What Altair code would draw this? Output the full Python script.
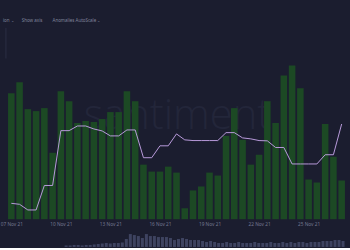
import altair as alt
import pandas as pd

# ---- data ----
bar_values = [127, 138, 111, 109, 112, 67, 129, 119, 97, 99, 98, 101, 108, 108,
              129, 119, 55, 48, 48, 53, 47, 11, 29, 33, 47, 44, 84, 112, 80, 55,
              65, 119, 97, 145, 155, 132, 40, 37, 96, 63, 39]
line_values = [16, 15, 9.3, 9.3, 34, 34, 89.3, 89.3, 94, 94, 91, 89, 84, 84, 90,
               90, 62, 62, 74, 74, 86, 80, 79.3, 79.3, 79.3, 79.3, 87.3, 87.3, 82,
               81, 79.3, 79, 72.3, 72.3, 55.7, 55.7, 55.7, 55.7, 65, 65, 96]
nav_values = ([0] * 14
              + [1.5, 1.5, 2, 2, 1.5, 2, 2, 2.5]
              + [3, 3.5, 4, 3.5, 4, 4, 4.5]
              + [8, 13, 12, 11, 9, 13, 11, 11, 10, 10, 10, 9]
              + [7, 8, 9, 8, 7, 7, 7, 6, 5, 6]
              + [5, 4, 4, 5, 4, 4, 5, 4, 4, 4, 5, 4, 4, 4, 5, 4, 4, 5, 4, 5, 4, 5, 5, 4, 5]
              + [5, 5, 6, 6, 6, 7, 7, 6])
tick_days = [7, 10, 13, 16, 19, 22, 25]
toolbar_labels = ["ion ⌄", "Show axis", "Anomalies  AutoScale ⌄"]
watermark = ["santiment"]

dates = pd.date_range("2021-11-07 00:00", periods=len(bar_values), freq="12h")
df = pd.DataFrame({
    "time": dates.strftime("%Y-%m-%dT%H:%M:%S"),
    "volume": bar_values,
    "metric": line_values,
})
nav_df = pd.DataFrame({"i": list(range(len(nav_values))), "v": nav_values})

BG = "#1b1d2f"

xscale = alt.Scale(domain=[
    alt.DateTime(year=2021, month=11, date=6, hours=19, minutes=5),
    alt.DateTime(year=2021, month=11, date=27, hours=4, minutes=55),
])
yscale = alt.Scale(domain=[0, 220], nice=False, zero=True)

xaxis = alt.Axis(
    values=[alt.DateTime(year=2021, month=11, date=d) for d in tick_days],
    labelExpr="timeFormat(datum.value, '%d %b %y')",
    title=None, domain=False, ticks=False, grid=False,
    labelFontSize=4.8, labelColor="#737890", labelPadding=2,
    labelFlush=False, labelOverlap=False, labelBound=False,
    labelFont="Noto Sans",
)

wm = alt.Chart(pd.DataFrame({"t": watermark})).mark_text(
    fontSize=42, font="Open Sans", fontWeight=300, color="#23263a",
    align="center", baseline="middle",
).encode(x=alt.value(176), y=alt.value(116), text="t:N")

bars = alt.Chart(df).mark_bar(size=6.6, color="#1c4924").encode(
    x=alt.X("time:T", scale=xscale, axis=xaxis),
    y=alt.Y("volume:Q", scale=yscale, axis=None),
)

line = alt.Chart(df).mark_line(color="#b99bdc", strokeWidth=1).encode(
    x=alt.X("time:T", scale=xscale),
    y=alt.Y("metric:Q", scale=yscale),
)

tb_x = [0, 19, 50]
toolbar_layers = []
for lab, px in zip(toolbar_labels, tb_x):
    toolbar_layers.append(
        alt.Chart(pd.DataFrame({"t": [lab]})).mark_text(
            fontSize=4.5, font="Noto Sans", color="#80859c",
            align="left", baseline="middle",
        ).encode(x=alt.value(px), y=alt.value(20), text="t:N")
    )

frame = alt.Chart(pd.DataFrame({"a": [0]})).mark_rule(
    color="#2a2e43", strokeWidth=1
).encode(x=alt.value(3), y=alt.value(27), y2=alt.value(58))

main = alt.layer(wm, bars, line, frame, *toolbar_layers).properties(
    width=350, height=220
)

nav = alt.Chart(nav_df).mark_bar(size=3, color="#3e4360").encode(
    x=alt.X("i:Q", scale=alt.Scale(domain=[-0.5, len(nav_values) - 0.5], nice=False, zero=False), axis=None),
    y=alt.Y("v:Q", scale=alt.Scale(domain=[0, 19], nice=False), axis=None),
).properties(width=350, height=19)

chart = alt.vconcat(main, nav, spacing=2).properties(
    background=BG, padding=0
).configure_view(stroke=None)

chart.save("out.html", embed_options={"renderer": "svg", "actions": False})
